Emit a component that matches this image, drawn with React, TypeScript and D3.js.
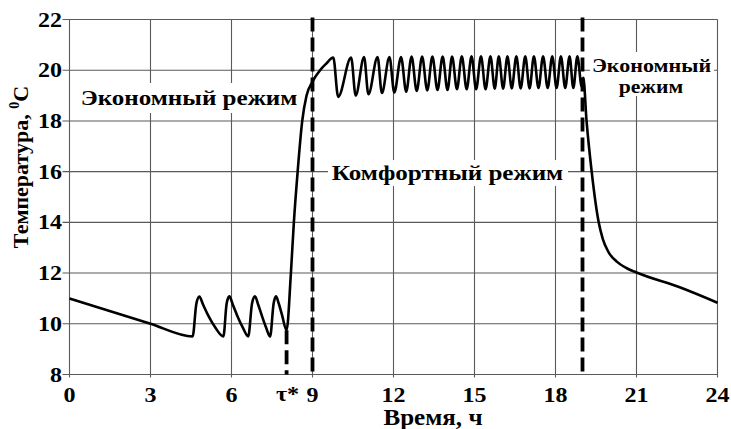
import React from 'react';
import * as d3 from 'd3';

const xTicks = [0, 3, 6, 9, 12, 15, 18, 21, 24];
const yTicks = [8, 10, 12, 14, 16, 18, 20, 22];
const tauStar = 8.04;
const tauStarTemp = 9.75;
const modeSwitchTimes = [9, 19];

const econMorningTime = [0, 3, 4.56, 4.7, 4.81, 4.95, 5.15, 5.4, 5.7, 5.82, 5.92, 6.05, 6.22, 6.42, 6.62, 6.76, 6.87, 6.99, 7.13, 7.28, 7.43, 7.56, 7.65, 7.75, 7.87, 8.04];
const econMorningTemp = [11, 10, 9.5, 10.8, 11.07, 10.75, 10.3, 9.85, 9.5, 10.8, 11.08, 10.75, 10.3, 9.85, 9.5, 10.8, 11.08, 10.75, 10.3, 9.85, 9.5, 10.8, 11.08, 10.8, 10.35, 9.75];

const heatUpTime = [8.2, 8.31, 8.45, 8.62, 8.78, 9.0, 9.28, 9.5];
const heatUpTemp = [12, 14, 16, 18, 19, 19.55, 20.0, 20.25];

const comfortPeakTime = [9.77, 10.43, 10.91, 11.41, 11.85, 12.28, 12.67, 13.06, 13.44, 13.82, 14.17, 14.53, 14.89, 15.24, 15.59, 15.9, 16.22, 16.55, 16.88, 17.2, 17.54, 17.88, 18.2, 18.52, 18.81];
const comfortPeakTemp = [20.5, 20.5, 20.52, 20.52, 20.52, 20.52, 20.54, 20.54, 20.54, 20.54, 20.54, 20.55, 20.55, 20.55, 20.55, 20.55, 20.55, 20.55, 20.55, 20.55, 20.55, 20.55, 20.55, 20.55, 20.55];
const comfortTroughTime = [9.95, 10.6, 11.07, 11.57, 12.03, 12.47, 12.86, 13.25, 13.63, 14.0, 14.35, 14.71, 15.06, 15.41, 15.75, 16.06, 16.38, 16.71, 17.04, 17.37, 17.71, 18.04, 18.36, 18.66, 18.97];
const comfortTroughTemp = [18.95, 19.0, 19.05, 19.1, 19.12, 19.15, 19.18, 19.2, 19.22, 19.22, 19.25, 19.25, 19.25, 19.25, 19.27, 19.27, 19.28, 19.28, 19.28, 19.3, 19.3, 19.3, 19.3, 19.3, 19.35];

const coolDownTime = [19.03, 19.15, 19.34, 19.6, 19.75, 19.95, 20.27, 20.64, 21, 22.6, 24];
const coolDownTemp = [19.7, 18, 16, 14, 13.35, 12.85, 12.45, 12.19, 12.02, 11.44, 10.83];

const W = 731;
const H = 429;
const FONT = "'Liberation Serif', 'Times New Roman', Times, serif";

function Label({ x, y, text, size, sx = 1.2, anchor = 'start', rotate = 0, children }: any) {
  const tr = `translate(${x},${y})` + (rotate ? ` rotate(${rotate})` : '') + ` scale(${sx},1)`;
  return (
    <text
      transform={tr}
      textAnchor={anchor}
      style={{ fontFamily: FONT, fontWeight: 'bold', fontSize: size + 'px' }}
      fill="#000"
    >
      {text}
      {children}
    </text>
  );
}

export default function App() {
  const x = d3.scaleLinear().domain([0, 24]).range([69.5, 717.5]);
  const y = d3.scaleLinear().domain([8, 22]).range([374.5, 19.5]);

  const pts: [number, number][] = [];
  econMorningTime.forEach((t, i) => pts.push([t, econMorningTemp[i]]));
  heatUpTime.forEach((t, i) => pts.push([t, heatUpTemp[i]]));
  comfortPeakTime.forEach((t, i) => {
    pts.push([t, comfortPeakTemp[i]]);
    pts.push([comfortTroughTime[i], comfortTroughTemp[i]]);
  });
  coolDownTime.forEach((t, i) => pts.push([t, coolDownTemp[i]]));

  const line = d3
    .line<[number, number]>()
    .x((d) => x(d[0]))
    .y((d) => y(d[1]))
    .curve(d3.curveMonotoneX);

  const gridColor = '#5a5a5a';
  const x0 = x(0);
  const x24 = x(24);
  const yTop = y(22);
  const yBot = y(8);

  return (
    <svg width={W} height={H} style={{ position: 'absolute', left: 0, top: 0, background: '#fff' }}>
      <rect x={0} y={0} width={W} height={H} fill="#fff" />
      {xTicks.map((t) => (
        <line key={'vx' + t} x1={x(t)} x2={x(t)} y1={yTop} y2={yBot + 3} stroke={gridColor} strokeWidth={1.1} />
      ))}
      {yTicks.map((t) => (
        <line key={'hy' + t} x1={x0 - 7} x2={x24} y1={y(t)} y2={y(t)} stroke={gridColor} strokeWidth={1.1} />
      ))}

      {yTicks.map((t) => (
        <Label key={'yl' + t} x={62} y={y(t) + 7} text={String(t)} size={20} anchor="end" />
      ))}
      {xTicks.map((t) => (
        <Label key={'xl' + t} x={x(t)} y={401.5} text={String(t)} size={20} anchor="middle" />
      ))}
      <Label x={x(tauStar) + 1} y={401} text="τ*" size={22} anchor="middle" sx={1.1} />

      <Label x={433} y={425} text="Время, ч" size={23} anchor="middle" sx={1.09} />
      <Label x={28} y={167} text="Температура, " size={22} anchor="middle" rotate={-90} sx={1.0}>
        <tspan style={{ fontSize: '14px' }} dy={-9}>0</tspan>
        <tspan dy={9}>C</tspan>
      </Label>

      <rect x={79} y={83} width={220} height={30} fill="#fff" />
      <Label x={189} y={105} text="Экономный режим" size={22} anchor="middle" sx={1.14} />
      <rect x={328} y={160} width={240} height={26} fill="#fff" />
      <Label x={447.5} y={180} text="Комфортный режим" size={22} anchor="middle" sx={1.14} />
      <rect x={590} y={52} width={124} height={44} fill="#fff" />
      <Label x={651.5} y={72} text="Экономный" size={18.5} anchor="middle" sx={1.19} />
      <Label x={651} y={92.6} text="режим" size={18.5} anchor="middle" sx={1.17} />

      <path d={line(pts) || ''} fill="none" stroke="#000" strokeWidth={2.6} strokeLinejoin="round" />

      {modeSwitchTimes.map((t) => (
        <line key={'ms' + t} x1={x(t)} x2={x(t)} y1={yTop - 2} y2={yBot} stroke="#000" strokeWidth={3.8} strokeDasharray="14,6" />
      ))}
      <line x1={x(tauStar)} x2={x(tauStar)} y1={y(tauStarTemp)} y2={yBot} stroke="#000" strokeWidth={3.8} strokeDasharray="14,6" />
    </svg>
  );
}
